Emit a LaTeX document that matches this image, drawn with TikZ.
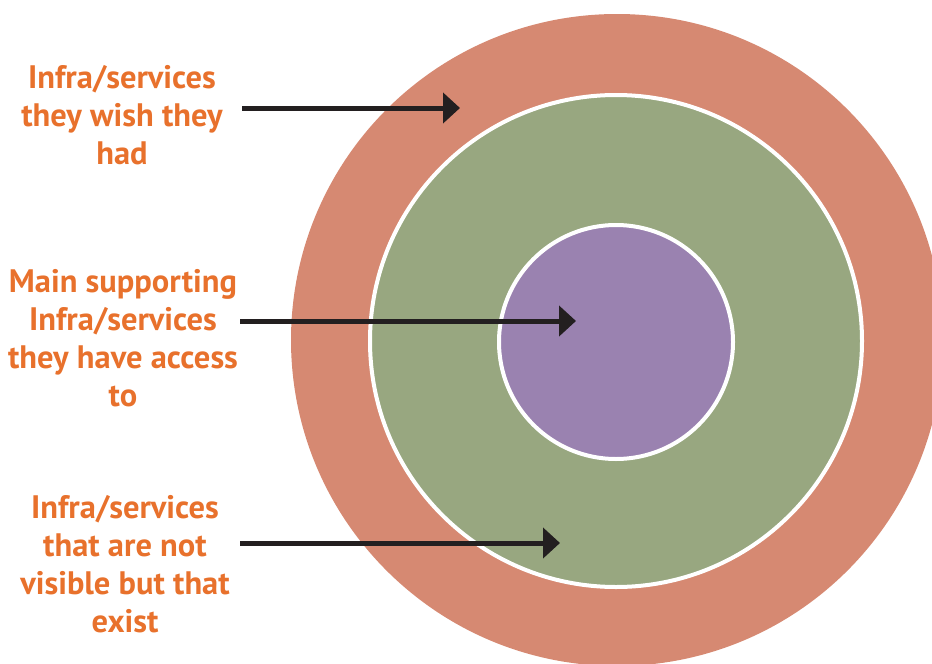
\documentclass[tikz,border=0pt]{standalone}
\usepackage{fontspec}
\usepackage{tikz}
\usetikzlibrary{arrows.meta,positioning}
\newfontfamily\labelfont{PT Sans}
\definecolor{ringred}{RGB}{214,137,114}
\definecolor{ringgreen}{RGB}{152,167,128}
\definecolor{ringpurple}{RGB}{154,130,176}
\definecolor{labelorange}{RGB}{232,113,44}
\definecolor{arrowblack}{RGB}{35,31,32}
\tikzset{
    % rings of the target
    ring/.style={circle, inner sep=0pt, draw=white, line width=4pt},
    outerring/.style={ring, fill=ringred, draw=none},
    middlering/.style={ring, fill=ringgreen},
    innerring/.style={ring, fill=ringpurple},
    % orange labels on the left
    ringlabel/.style={
        align=center, text=labelorange, inner sep=0pt,
        font=\labelfont\bfseries\fontsize{32.5}{38}\selectfont
    },
    % pointer arrows
    pointer/.style={line width=5pt, arrowblack,
        -{Triangle[length=17pt,width=30pt]}}
}
\begin{document}
\begin{tikzpicture}[x=1pt,y=-1pt]
  \useasboundingbox (0,0) rectangle (932,664);
  \clip (0,0) rectangle (932,664);
  \node[outerring,minimum size=652pt] (outer) at (617,340) {};
  \node[middlering,minimum size=492pt] (middle) at (616,341) {};
  \node[innerring,minimum size=234pt] (inner) at (616,342) {};

  \node[ringlabel] (wish) at (122,115) {Infra/services\\they wish they\\had};
  \node[ringlabel] (access) at (123,338) {Main supporting\\Infra/services\\they have access\\to};
  \node[ringlabel] (hidden) at (125,564) {Infra/services\\that are not\\visible but that\\exist};

  \coordinate (wishtail) at (242,108);
  \coordinate (wishtip) at (460,108);
  \coordinate (accesstail) at (240,321);
  \coordinate (accesstip) at (576,321);
  \coordinate (hiddentail) at (240,543);
  \coordinate (hiddentip) at (560,543);
  \draw[pointer] (wishtail) -- (wishtip);
  \draw[pointer] (accesstail) -- (accesstip);
  \draw[pointer] (hiddentail) -- (hiddentip);
\end{tikzpicture}
\end{document}
